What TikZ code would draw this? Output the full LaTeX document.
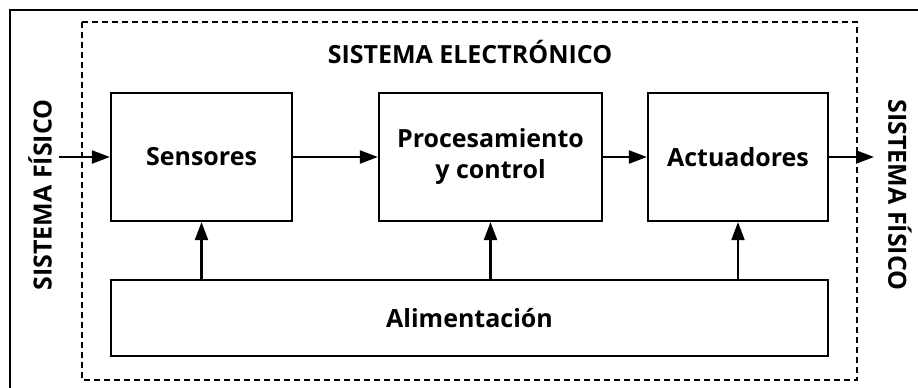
\documentclass[tikz,border=0pt]{standalone}
\usepackage{fontspec}
\setmainfont{Open Sans}
\usetikzlibrary{arrows.meta}

\begin{document}
\begin{tikzpicture}[x=1pt,y=-1pt,line width=2.2pt,
  every node/.style={font=\bfseries\fontsize{25}{29}\selectfont,align=center},
  block/.style={draw,minimum height=128pt,inner sep=0pt},
  flow/.style={-{Triangle[length=18pt,width=13pt]}}]
\useasboundingbox (0,0) rectangle (918,388);

% marcos
\draw[line width=2pt] (10,10) rectangle (940,410);
\draw[line width=2pt,dash pattern=on 6pt off 4pt] (82,22) rectangle (857,380);

\node (titulo) at (470,52) {SISTEMA ELECTRÓNICO};

\node[block,minimum width=181pt] (sens) at (201.5,157) {Sensores};
\node[block,minimum width=223pt] (proc) at (490.5,157) {Procesamiento\\[2pt] y control};
\node[block,minimum width=180pt] (act) at (738,157) {Actuadores};
\node[block,minimum width=717pt,minimum height=76pt] (alim) at (469.5,318) {Alimentación};

\node[rotate=90] (fisin) at (40,195) {SISTEMA FÍSICO};
\node[rotate=-90] (fisout) at (900,195) {SISTEMA FÍSICO};

\coordinate (ent) at (59,157);
\coordinate (sal) at (874,157);

\draw[flow] (ent) -- (sens);
\draw[flow] (sens) -- (proc);
\draw[flow] (proc) -- (act);
\draw[flow] (act) -- (sal);

\foreach \b in {sens,proc,act}
  \draw[flow] (alim.north -| \b) -- (\b.south);

\end{tikzpicture}
\end{document}
